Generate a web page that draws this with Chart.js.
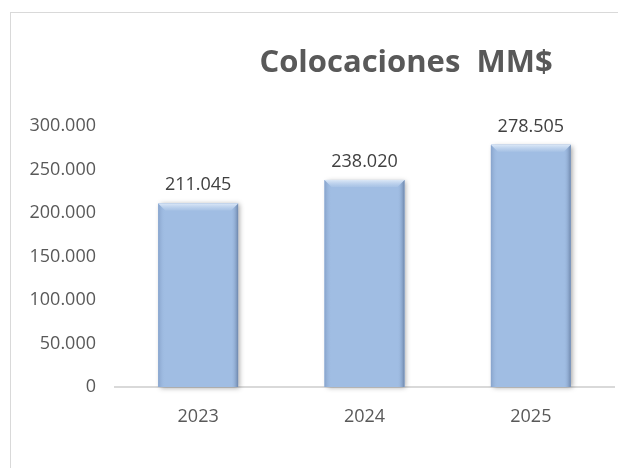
<!DOCTYPE html>
<html>
<head>
<meta charset="utf-8">
<script src="https://cdn.jsdelivr.net/npm/chart.js@4"></script>
<style>
  html, body { margin: 0; padding: 0; background: #fff; }
  #frame {
    position: absolute; left: 10px; top: 12px;
    width: 700px; height: 600px;
    border: 1px solid #d9d9d9; box-sizing: border-box;
  }
  #chart { position: absolute; left: 0; top: 0; }
</style>
</head>
<body>
<div id="frame"></div>
<canvas id="chart" width="618" height="468"></canvas>
<script>
const years = ["2023", "2024", "2025"];
const colocaciones = [211045, 238020, 278505];
const yTicks = [0, 50000, 100000, 150000, 200000, 250000, 300000];

const FONT = "'Open Sans', sans-serif";
const BAR = "#a0bde3";

const fmt = (v) => v.toLocaleString("de-DE");

// soft bevel over each bar: light top edge, shaded sides
const bevelBars = {
  id: "bevelBars",
  beforeDatasetsDraw(chart) {
    const ctx = chart.ctx;
    chart.getDatasetMeta(0).data.forEach((bar) => {
      ctx.save();
      ctx.shadowColor = "rgba(0,0,0,0.35)";
      ctx.shadowBlur = 5;
      ctx.shadowOffsetX = 2;
      ctx.shadowOffsetY = 1;
      ctx.fillStyle = BAR;
      ctx.fillRect(bar.x - bar.width / 2, bar.y, bar.width, bar.base - bar.y);
      ctx.restore();
    });
  },
  afterDatasetsDraw(chart) {
    const ctx = chart.ctx;
    chart.getDatasetMeta(0).data.forEach((bar) => {
      const l = bar.x - bar.width / 2;
      const r = bar.x + bar.width / 2;
      const t = bar.y;
      const b = bar.base;
      const e = 7;
      ctx.save();
      // left side
      let g = ctx.createLinearGradient(l, 0, l + e, 0);
      g.addColorStop(0, "#87a3cb");
      g.addColorStop(1, "rgba(160,189,227,0)");
      ctx.fillStyle = g;
      ctx.beginPath();
      ctx.moveTo(l, t); ctx.lineTo(l + e, t + e); ctx.lineTo(l + e, b); ctx.lineTo(l, b);
      ctx.closePath(); ctx.fill();
      // right side
      g = ctx.createLinearGradient(r - e, 0, r, 0);
      g.addColorStop(0, "rgba(160,189,227,0)");
      g.addColorStop(1, "#6e87ac");
      ctx.fillStyle = g;
      ctx.beginPath();
      ctx.moveTo(r, t); ctx.lineTo(r - e, t + e); ctx.lineTo(r - e, b); ctx.lineTo(r, b);
      ctx.closePath(); ctx.fill();
      // top highlight
      g = ctx.createLinearGradient(0, t, 0, t + e);
      g.addColorStop(0, "#dce8f7");
      g.addColorStop(1, "rgba(200,218,240,0.2)");
      ctx.fillStyle = g;
      ctx.beginPath();
      ctx.moveTo(l, t); ctx.lineTo(r, t); ctx.lineTo(r - e, t + e); ctx.lineTo(l + e, t + e);
      ctx.closePath(); ctx.fill();
      ctx.restore();
    });
  },
};

// value labels above bars and the chart heading
const labelsAndTitle = {
  id: "labelsAndTitle",
  afterDraw(chart) {
    const ctx = chart.ctx;
    ctx.save();
    ctx.textAlign = "center";
    ctx.textBaseline = "alphabetic";
    ctx.fillStyle = "#404040";
    ctx.font = "18px " + FONT;
    chart.getDatasetMeta(0).data.forEach((bar, i) => {
      ctx.fillText(fmt(colocaciones[i]), bar.x, bar.y - 13);
    });
    ctx.fillStyle = "#595959";
    ctx.font = "bold 31px " + FONT;
    ctx.fillText("Colocaciones  MM$", 406, 72);
    ctx.restore();
  },
};

new Chart(document.getElementById("chart"), {
  type: "bar",
  data: {
    labels: years,
    datasets: [{
      data: colocaciones,
      backgroundColor: BAR,
      categoryPercentage: 1,
      barPercentage: 0.48,
    }],
  },
  options: {
    responsive: false,
    animation: false,
    layout: { padding: { left: 10, right: 4, top: 126, bottom: 0 } },
    plugins: { legend: { display: false }, tooltip: { enabled: false } },
    scales: {
      x: {
        grid: { display: false, drawTicks: false },
        border: { display: true, color: "#d9d9d9", width: 2 },
        ticks: { color: "#595959", font: { family: FONT, size: 18 }, padding: 19 },
        afterFit: (s) => { s.height = 81; },
      },
      y: {
        min: 0,
        max: 300000,
        afterBuildTicks: (s) => { s.ticks = yTicks.map((v) => ({ value: v })); },
        grid: { display: false, drawTicks: false },
        border: { display: false },
        ticks: {
          color: "#595959",
          font: { family: FONT, size: 18 },
          padding: 19,
          callback: (v) => fmt(v),
        },
        afterFit: (s) => { s.width = 105; },
      },
    },
  },
  plugins: [bevelBars, labelsAndTitle],
});
</script>
</body>
</html>
